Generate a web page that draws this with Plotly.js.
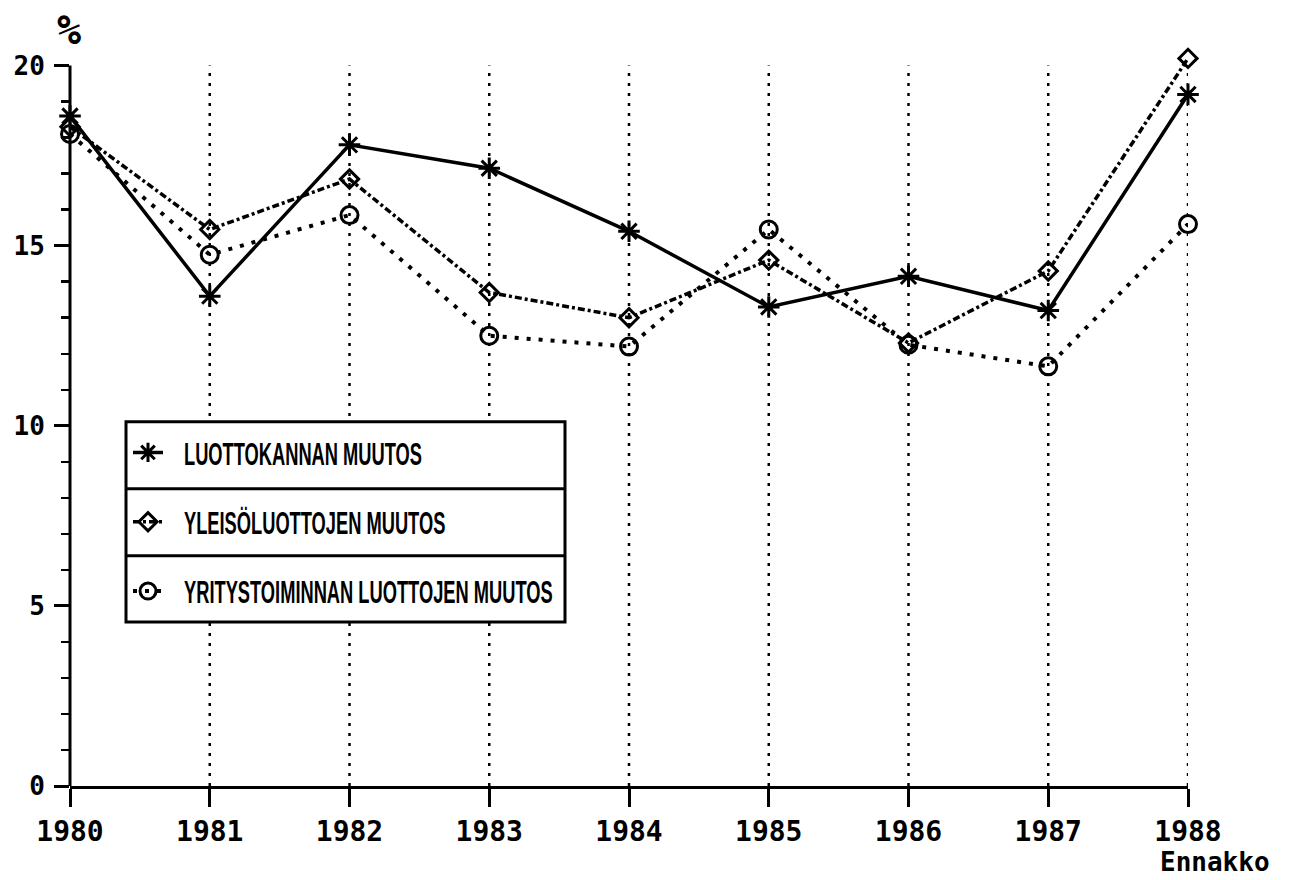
<!DOCTYPE html>
<html>
<head>
<meta charset="utf-8">
<script src="https://cdn.plot.ly/plotly-3.0.1.min.js"></script>
<style>html,body{margin:0;padding:0;background:#fff;}#chart{width:1301px;height:880px;}</style>
</head>
<body>
<div id="chart"></div>
<script>
const years = [1980, 1981, 1982, 1983, 1984, 1985, 1986, 1987, 1988];
const tickLabels = ['1980', '1981', '1982', '1983', '1984', '1985', '1986', '1987', '1988'];
const seriesNames = ['LUOTTOKANNAN MUUTOS', 'YLEISÖLUOTTOJEN MUUTOS', 'YRITYSTOIMINNAN LUOTTOJEN MUUTOS'];
const luottokanta = [18.6, 13.6, 17.8, 17.15, 15.4, 13.3, 14.15, 13.2, 19.2];
const yleiso = [18.3, 15.45, 16.85, 13.7, 13.0, 14.6, 12.3, 14.3, 20.2];
const yritys = [18.1, 14.75, 15.85, 12.5, 12.2, 15.45, 12.25, 11.65, 15.6];
const yTicks = [0, 5, 10, 15, 20];
const yMax = 20;
const unitLabel = '%';
const forecastLabel = 'Ennakko';

const monoBold = size => ({family: 'DejaVu Sans Mono, monospace', size: size, color: '#000', weight: 'bold'});
const legendFont = {family: 'Liberation Sans, Arial, sans-serif', size: 31, color: '#000', weight: 'bold'};

const traces = [
  {
    x: years, y: luottokanta, name: seriesNames[0], type: 'scatter', mode: 'lines+markers',
    line: {color: '#000', width: 3.5},
    marker: {symbol: 'asterisk-open', size: 18, color: '#000', line: {color: '#000', width: 3}},
    cliponaxis: false, legendgroup: 'a'
  },
  {
    x: years, y: yleiso, name: seriesNames[1], type: 'scatter', mode: 'lines+markers',
    line: {color: '#000', width: 3.5, dash: '7px,3px,3px,3px'},
    marker: {symbol: 'diamond-open', size: 14, color: '#000', line: {color: '#000', width: 3}},
    cliponaxis: false, legendgroup: 'b'
  },
  {
    x: years, y: yritys, name: seriesNames[2], type: 'scatter', mode: 'lines+markers',
    line: {color: '#000', width: 4, dash: '4px,8px'},
    marker: {symbol: 'circle-open', size: 17, color: '#000', line: {color: '#000', width: 3}},
    cliponaxis: false, legendgroup: 'c'
  }
];

// target plot area for 0..20: x 70..1188, y 66..786 (36 px per unit)
const W = 1301, H = 880, L = 70, R = 113, B = 94;
const pxPerUnit = 36;
const yTop = 20.35;
const T = 66 - (yTop - yMax) * pxPerUnit;
const pw = W - L - R, ph = H - T - B;
const px = v => (v - L) / pw;
const py = v => (H - B - v) / ph;

const box = {x0: px(126), x1: px(565), y0: py(622), y1: py(422)};
const sep1 = py(489), sep2 = py(556);

const gridShapes = years.slice(1).map(yr => ({
  type: 'line', xref: 'x', yref: 'y', x0: yr, x1: yr, y0: 0, y1: yMax,
  line: {color: '#000', width: 2.5, dash: '3px,7px'}, layer: 'below'
}));

const layout = {
  width: W, height: H,
  margin: {l: L, r: R, t: T, b: B},
  paper_bgcolor: '#fff', plot_bgcolor: '#fff',
  showlegend: true,
  legend: {
    x: px(128), y: py(426), xanchor: 'left', yanchor: 'top',
    bgcolor: 'rgba(0,0,0,0)', borderwidth: 0,
    font: legendFont, traceorder: 'grouped', tracegroupgap: 26,
    itemwidth: 30
  },
  xaxis: {
    range: [1980, 1988], tickvals: years, ticktext: tickLabels,
    showline: true, linecolor: '#000', linewidth: 3,
    ticks: 'outside', ticklen: 18, tickwidth: 3, tickcolor: '#000',
    showgrid: false, zeroline: false, tickfont: monoBold(28), ticklabelstandoff: 0,
    fixedrange: true
  },
  yaxis: {
    range: [0, yTop], tickvals: yTicks,
    showline: false,
    ticks: 'outside', ticklen: 15, tickwidth: 3, tickcolor: '#000',
    minor: {ticks: 'outside', ticklen: 8, tickwidth: 2.5, tickcolor: '#000', dtick: 1, showgrid: false},
    showgrid: false, zeroline: false,
    tickfont: monoBold(26), ticklabelstandoff: 4,
    fixedrange: true
  },
  shapes: gridShapes.concat([
    {type: 'line', xref: 'paper', yref: 'y', x0: 0, x1: 0, y0: 0, y1: yMax,
     line: {color: '#000', width: 3}, layer: 'above'},
    {type: 'rect', xref: 'paper', yref: 'paper', x0: box.x0, x1: box.x1, y0: box.y0, y1: box.y1,
     line: {color: '#000', width: 3}, fillcolor: '#fff', layer: 'above'},
    {type: 'line', xref: 'paper', yref: 'paper', x0: box.x0, x1: box.x1, y0: sep1, y1: sep1,
     line: {color: '#000', width: 3}, layer: 'above'},
    {type: 'line', xref: 'paper', yref: 'paper', x0: box.x0, x1: box.x1, y0: sep2, y1: sep2,
     line: {color: '#000', width: 3}, layer: 'above'}
  ]),
  annotations: [
    {text: unitLabel, xref: 'paper', yref: 'paper', x: px(69), y: py(30), xanchor: 'center', yanchor: 'middle',
     showarrow: false, font: monoBold(40)},
    {text: forecastLabel, xref: 'x', yref: 'paper', x: years[years.length - 1], xshift: -30, y: py(879),
     xanchor: 'left', yanchor: 'bottom', showarrow: false, font: monoBold(26)}
  ]
};

Plotly.newPlot('chart', traces, layout, {displayModeBar: false, staticPlot: true}).then(() => {
  // condense legend labels horizontally, like the narrow lettering of the original
  const s = 0.59, dx = 16;
  document.querySelectorAll('#chart .legendtext').forEach(t => {
    const x = parseFloat(t.getAttribute('x')) || 0;
    t.setAttribute('transform', 'translate(' + (x + dx) + ',0) scale(' + s + ',1) translate(' + (-x) + ',0)');
  });
});
</script>
</body>
</html>
